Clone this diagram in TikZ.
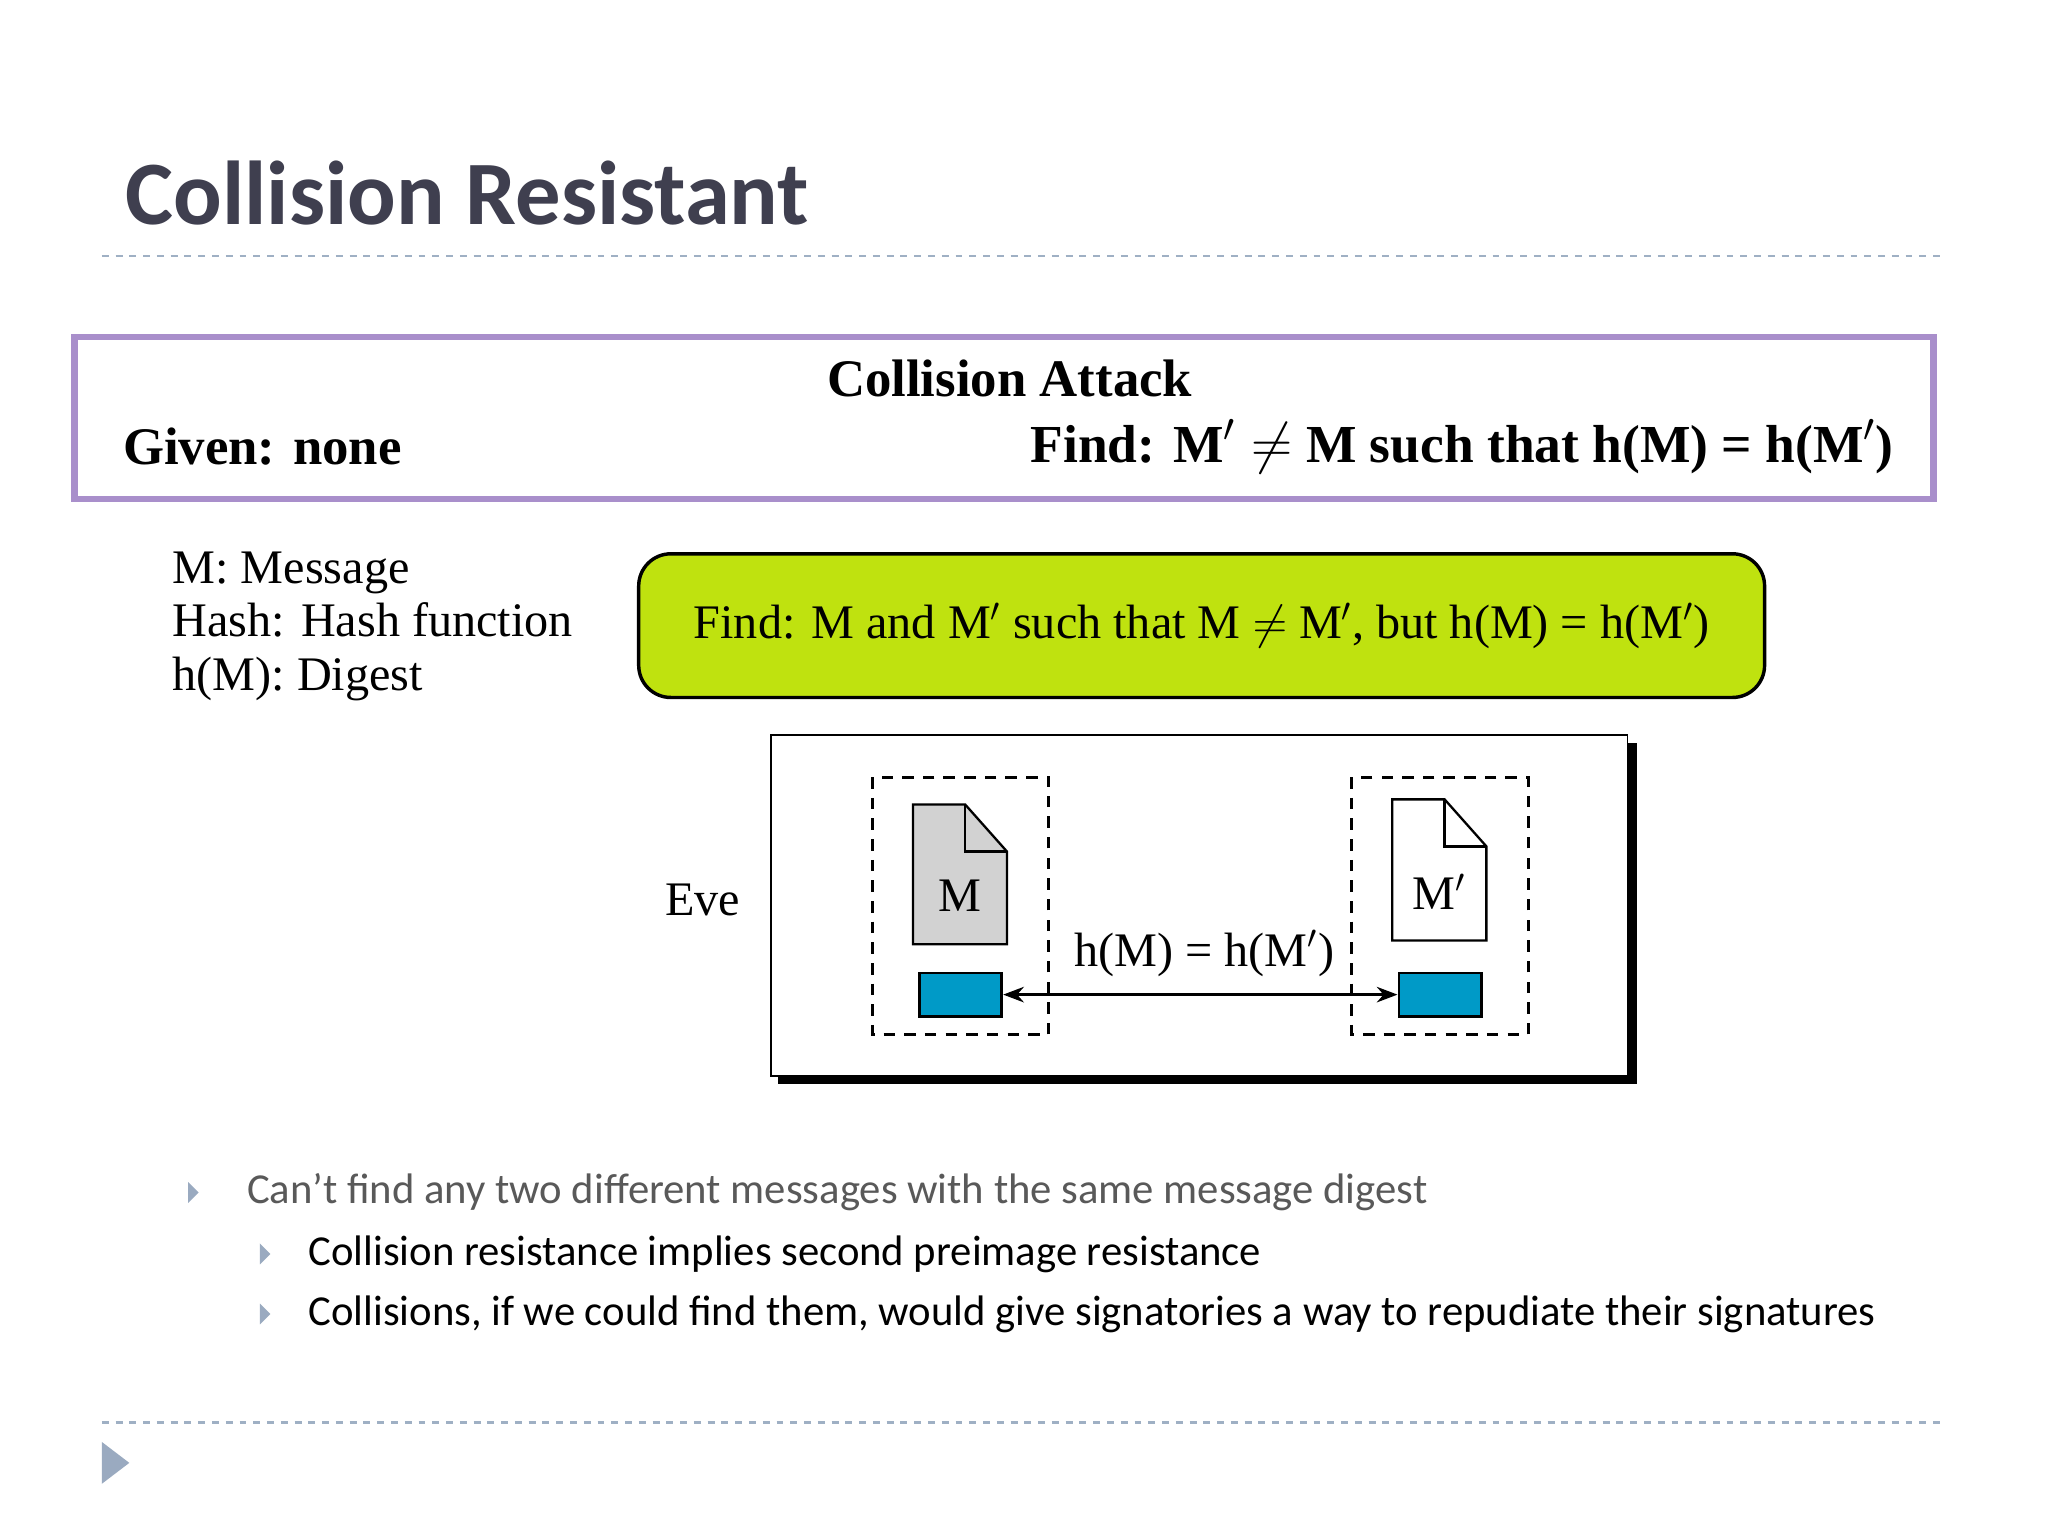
\documentclass[tikz,border=0pt]{standalone}
\usepackage{fontspec}
\setmainfont{Liberation Serif}
\newfontfamily\calib{Carlito}
\usetikzlibrary{arrows.meta}
\definecolor{titlec}{HTML}{3F3F4F}
\definecolor{sepc}{HTML}{9FB0C4}
\definecolor{purp}{HTML}{A98FCB}
\definecolor{lime}{HTML}{BFE20F}
\definecolor{cyanb}{HTML}{009AC7}
\definecolor{docg}{HTML}{D2D2D2}
\definecolor{bulc}{HTML}{9AAAC0}
\definecolor{greyt}{HTML}{595959}
\tikzset{
  sep/.style={sepc,dashed,line width=1pt},
  dbox/.style={draw,dashed,line width=1.2pt,dash pattern=on 5pt off 4pt},
  bluer/.style={draw,fill=cyanb,line width=1.2pt},
  bul/.style={fill=bulc,draw=none},
}
\begin{document}
\begin{tikzpicture}[x=0.02cm,y=-0.02cm]
\useasboundingbox (0,0) rectangle (1568,1176);
\fill[white] (0,0) rectangle (1568,1176);
\node[anchor=west,text=titlec,font=\calib\bfseries\fontsize{39.5}{46}\selectfont] (title) at (90,148) {Collision Resistant};
\draw[sep] (78,196) -- (1490,196);
\draw[sep] (78,1089) -- (1490,1089);
% purple box
\draw[purp,line width=3pt] (57,258) rectangle (1480,382);
\node[font=\bfseries\fontsize{23}{27}\selectfont] (hdr) at (773,290) {Collision Attack};
\node[anchor=west,font=\bfseries\fontsize{23}{27}\selectfont] (given) at (88,342) {Given: none};
\node[anchor=east,font=\bfseries\fontsize{23.3}{27}\selectfont] (find) at (1456,342) {Find: M$'\neq$ M such that h(M) = h(M$'$)};
% legend
\node[anchor=north west,align=left,font=\fontsize{21}{23.5}\selectfont] (legend) at (126,416) {M: Message\\Hash: Hash function\\h(M): Digest};
% green
\draw[fill=lime,line width=1.5pt,rounded corners=14pt] (489,424) rectangle (1351,534);
\node[font=\fontsize{21}{25}\selectfont] (gtext) at (920,479) {Find: M and M$'$ such that M $\neq$ M$'$, but h(M) = h(M$'$)};
% eve frame
\fill[black] (596,569) rectangle (1253,830);
\draw[fill=white,line width=0.8pt] (590,563) rectangle (1246,824);
\node[font=\fontsize{21}{25}\selectfont] (eve) at (538,689) {Eve};
\draw[dbox] (668,595) rectangle (803,792);
\draw[dbox] (1035,595) rectangle (1170,792);
\draw[fill=docg,line width=1pt] (699,616) -- (739,616) -- (771,652) -- (771,723) -- (699,723) -- cycle;
\draw[line width=1pt] (739,616) -- (739,652) -- (771,652);
\node[font=\fontsize{21}{25}\selectfont] (m) at (735,686) {M};
\draw[fill=white,line width=1pt] (1066,612) -- (1106,612) -- (1138,648) -- (1138,720) -- (1066,720) -- cycle;
\draw[line width=1pt] (1106,612) -- (1106,648) -- (1138,648);
\node[font=\fontsize{21}{25}\selectfont] (mp) at (1102,683) {M$'$};
\node[bluer,minimum width=63*0.02cm,minimum height=33*0.02cm,inner sep=0] (b1) at (735.5,761.5) {};
\node[bluer,minimum width=63*0.02cm,minimum height=33*0.02cm,inner sep=0] (b2) at (1102.5,761.5) {};
\draw[{Stealth[length=9pt]}-{Stealth[length=9pt]},line width=1.3pt] (b1) -- (b2);
\node[font=\fontsize{21}{25}\selectfont] (eq) at (922,730) {h(M) = h(M$'$)};
% bullets
\fill[bul] (144,905) -- (152,913) -- (144,921) -- cycle;
\fill[bul] (199,952) -- (207,960) -- (199,968) -- cycle;
\fill[bul] (199,998) -- (207,1006) -- (199,1014) -- cycle;
\fill[bul] (78,1104) -- (99,1120) -- (78,1136) -- cycle;
\node[anchor=west,text=greyt,font=\calib\fontsize{18.6}{22}\selectfont] (t1) at (183,913) {Can’t find any two different messages with the same message digest};
\node[anchor=west,font=\calib\fontsize{18.6}{22}\selectfont] (t2) at (230,960) {Collision resistance implies second preimage resistance};
\node[anchor=west,font=\calib\fontsize{18.6}{22}\selectfont] (t3) at (230,1006) {Collisions, if we could find them, would give signatories a way to repudiate their signatures};
\end{tikzpicture}
\end{document}
